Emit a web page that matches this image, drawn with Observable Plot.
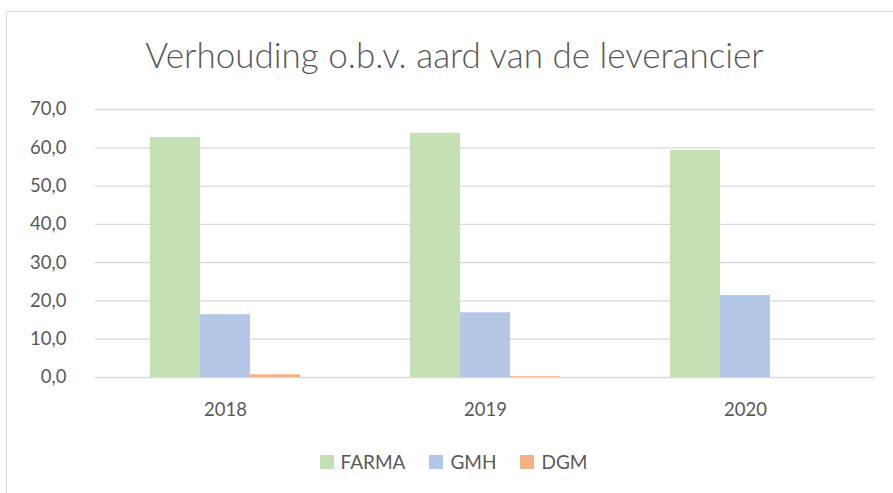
<!DOCTYPE html>
<html>
<head>
<meta charset="utf-8">
<script src="https://cdn.jsdelivr.net/npm/d3@7"></script>
<script src="https://cdn.jsdelivr.net/npm/@observablehq/plot@0.6"></script>
<style>
  html, body { margin: 0; padding: 0; background: #fff; }
  #wrap { position: relative; width: 893px; height: 493px; overflow: hidden; font-family: Lato, "Open Sans", sans-serif; color: #595959; }
  #frame { position: absolute; left: 6px; top: 11px; width: 1000px; height: 1000px; border: 1.5px solid #d9d9d9; box-sizing: border-box; }
  #title { position: absolute; left: 0; width: 893px; top: 33px; text-align: center; font-size: 35px; line-height: 42px; color: #595959; padding-left: 16px; box-sizing: border-box; font-weight: 300; }
  #chart { position: absolute; left: 0; top: 90px; }
  #legend { position: absolute; left: 0; width: 893px; top: 450px; display: flex; justify-content: center; gap: 24px; font-size: 19px; line-height: 24px; color: #595959; padding-left: 14px; box-sizing: border-box; }
  .item { display: flex; align-items: center; gap: 7px; }
  .sw { width: 14px; height: 14px; display: inline-block; }
</style>
</head>
<body>
<div id="wrap">
  <div id="frame"></div>
  <div id="title">Verhouding o.b.v. aard van de leverancier</div>
  <div id="chart"></div>
  <div id="legend"></div>
</div>
<script>
const years = ["2018", "2019", "2020"];
const series = ["FARMA", "GMH", "DGM"];
const farma = [62.7, 63.8, 59.3];
const gmh = [16.4, 16.9, 21.4];
const dgm = [0.7, 0.2, 0.0];
const yTicks = [0, 10, 20, 30, 40, 50, 60, 70];
const colors = ["#c5e0b4", "#b4c7e7", "#f4b183"];

const valuesBySeries = [farma, gmh, dgm];
const data = [];
years.forEach((yr, i) => {
  series.forEach((s, j) => {
    data.push({year: yr, series: s, value: valuesBySeries[j][i]});
  });
});

const fmt = d => d.toFixed(1).replace(".", ",");

const chart = Plot.plot({
  width: 893,
  height: 350,
  marginLeft: 95,
  marginRight: 18,
  marginTop: 19,
  marginBottom: 63,
  style: {fontFamily: "Lato, 'Open Sans', sans-serif", color: "#595959", background: "transparent"},
  fx: {domain: years, paddingInner: 0, paddingOuter: 0, label: null, axis: null},
  x: {domain: series, paddingInner: 0, paddingOuter: 1.1, axis: null},
  y: {domain: [0, 70], label: null},
  color: {domain: series, range: colors},
  marks: [
    Plot.gridY(yTicks, {stroke: "#d9d9d9", strokeOpacity: 1, strokeWidth: 1.3}),
    Plot.barY(data, {fx: "year", x: "series", y: "value", fill: "series"}),
    Plot.axisY(yTicks, {tickSize: 0, tickPadding: 29, tickFormat: fmt, fontSize: 18.5, label: null, fill: "#595959"}),
    Plot.axisFx({anchor: "bottom", tickSize: 0, tickPadding: 25, fontSize: 18.5, label: null, fill: "#595959"})
  ]
});
document.getElementById("chart").appendChild(chart);

const legend = document.getElementById("legend");
series.forEach((s, j) => {
  const item = document.createElement("span");
  item.className = "item";
  const sw = document.createElement("span");
  sw.className = "sw";
  sw.style.background = colors[j];
  const t = document.createElement("span");
  t.textContent = s;
  item.appendChild(sw);
  item.appendChild(t);
  legend.appendChild(item);
});
</script>
</body>
</html>
